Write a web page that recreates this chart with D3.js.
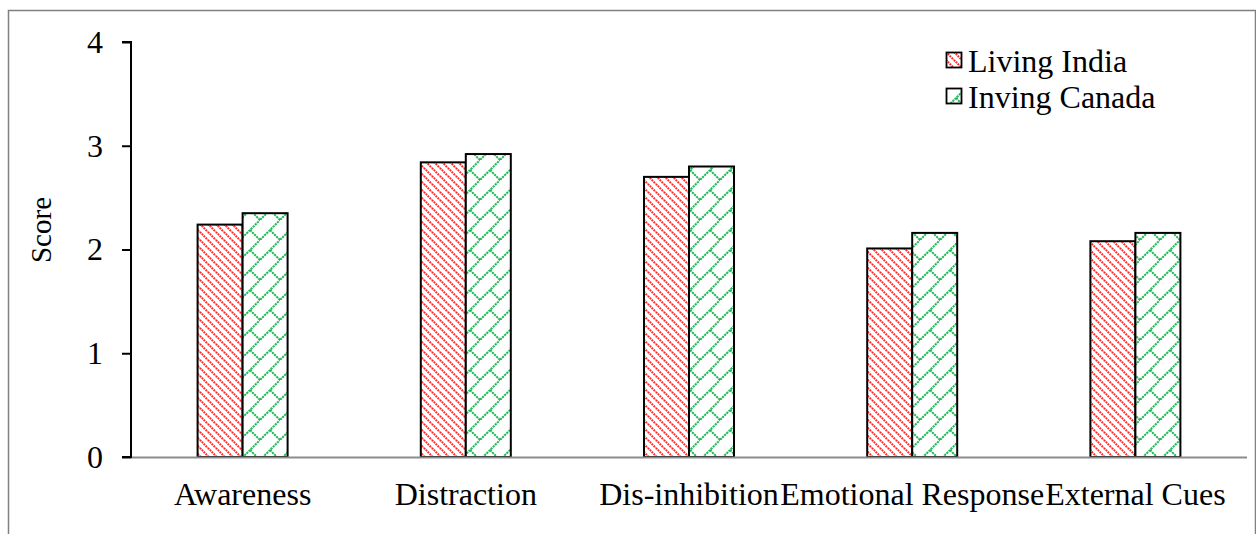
<!DOCTYPE html>
<html><head><meta charset="utf-8">
<script src="https://cdn.jsdelivr.net/npm/d3@7"></script>
<style>body{margin:0;background:#fff}svg{display:block}text{font-family:"Liberation Serif","Times New Roman",serif;fill:#000}</style>
</head><body>
<svg id="c" width="1256" height="534"></svg>
<script>
const categories = ["Awareness","Distraction","Dis-inhibition","Emotional Response","External Cues"];
const seriesNames = ["Living India","Inving Canada"];
const livingIndia = [2.24, 2.84, 2.70, 2.01, 2.08];
const livingCanada = [2.35, 2.92, 2.80, 2.16, 2.16];
const yTicks = [0,1,2,3,4];

(function(){
const svg = d3.select("#c");
const defs = svg.append("defs");
// red diagonal stripes pattern
const pr = defs.append("pattern").attr("id","pRed").attr("patternUnits","userSpaceOnUse").attr("width",8).attr("height",8);
pr.append("rect").attr("width",8).attr("height",8).attr("fill","#fff");
pr.append("path").attr("d","M-2,-2L10,10M-2,6L2,10M6,-2L10,2").attr("stroke","#ff2a2a").attr("stroke-width",2.1).attr("stroke-dasharray","1.8,0.9");
// green diagonal brick pattern
const pg = defs.append("pattern").attr("id","pGreen").attr("patternUnits","userSpaceOnUse").attr("width",20).attr("height",20);
pg.append("rect").attr("width",20).attr("height",20).attr("fill","#fff");
pg.append("path").attr("d","M-2,22L22,-2M10,10L20,20M0,0L0,0").attr("stroke","#20b858").attr("stroke-width",2).attr("stroke-dasharray","2.2,0.8").attr("fill","none");

// outer frame
svg.append("path").attr("d","M8.5,534V10.5H1255.5V534").attr("fill","none").attr("stroke","#808080").attr("stroke-width",1.5);

const pL = 131, pR = 1247, pT = 42, pB = 457;
const y = d3.scaleLinear().domain([0,4]).range([pB, pT]);
const x0 = d3.scaleBand().domain(categories).range([pL, pR]).padding(0);
const x1 = d3.scaleBand().domain(seriesNames).range([0, x0.bandwidth()]).paddingInner(0).paddingOuter(1.48);
const patterns = ["url(#pRed)","url(#pGreen)"];
const seriesVals = [livingIndia, livingCanada];

const g = svg.append("g");
categories.forEach((c,i)=>{
  seriesNames.forEach((s,j)=>{
    const v = seriesVals[j][i];
    g.append("rect")
      .attr("x", x0(c)+x1(s)).attr("y", y(v))
      .attr("width", x1.bandwidth()).attr("height", y(0)-y(v))
      .attr("fill", patterns[j]).attr("stroke","#000").attr("stroke-width",2);
  });
});

// x axis
const xa = svg.append("g").attr("transform",`translate(0,${pB})`)
  .call(d3.axisBottom(x0).tickSize(0).tickPadding(0));
xa.select(".domain").attr("stroke","#8c8c8c").attr("stroke-width",2).attr("d",`M${pL},0.5H${pR}`);
xa.selectAll("text").attr("font-size",32).attr("font-family","Liberation Serif").attr("y",48).attr("dy","0");

// y axis
const ya = svg.append("g").attr("transform",`translate(${pL},0)`)
  .call(d3.axisLeft(y).tickValues(yTicks).tickSize(9).tickPadding(19).tickFormat(d3.format("d")));
ya.select(".domain").attr("stroke","#000").attr("stroke-width",2).attr("d",`M-9,${pT}H0V${pB}H-9`);
ya.selectAll(".tick line").attr("stroke","#000").attr("stroke-width",2);
ya.selectAll("text").attr("font-size",32).attr("font-family","Liberation Serif");

svg.append("text").attr("transform",`translate(51,230) rotate(-90)`)
  .attr("text-anchor","middle").attr("font-size",29).text("Score");

// legend
const lg = svg.append("g").attr("transform","translate(946,52)");
seriesNames.forEach((s,j)=>{
  const row = lg.append("g").attr("transform",`translate(0,${j*36})`);
  row.append("rect").attr("x",0.5).attr("y",0.5).attr("width",15).attr("height",15)
    .attr("fill",patterns[j]).attr("stroke","#000").attr("stroke-width",1.8);
  row.append("text").attr("x",22).attr("y",20).attr("font-size",32).text(s);
});
})();
</script>
</body></html>
